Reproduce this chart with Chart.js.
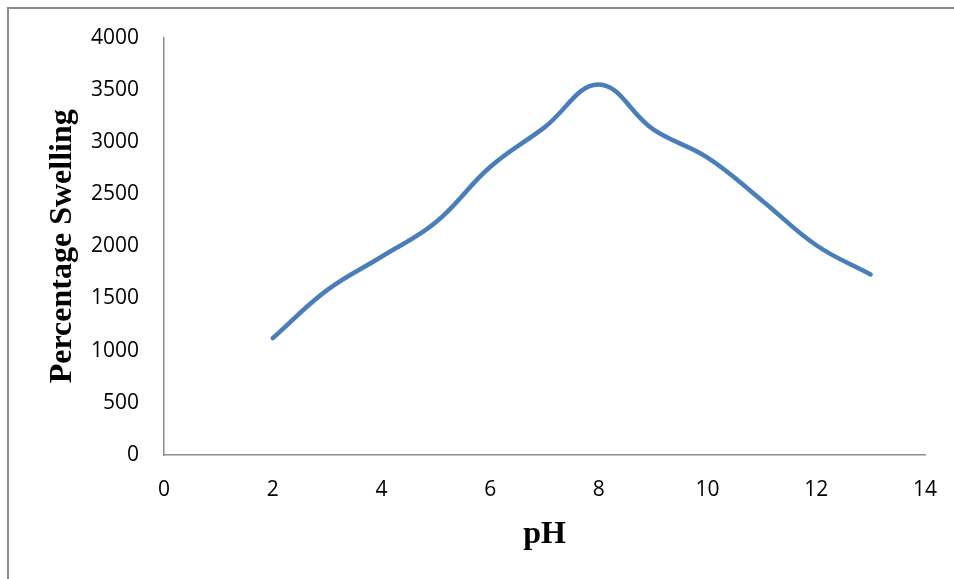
<!DOCTYPE html>
<html>
<head>
<meta charset="utf-8">
<script src="https://cdn.jsdelivr.net/npm/chart.js@4/dist/chart.umd.min.js"></script>
<style>
    html, body { margin: 0; padding: 0; background: #fff; }
    #wrap { position: relative; width: 954px; height: 579px; overflow: hidden; }
    #frame {
        position: absolute; left: 7px; top: 7px; width: 960px; height: 600px;
        border-left: 2px solid #8c8c8c; border-top: 2px solid #8c8c8c; box-sizing: border-box;
    }
    #chart { position: absolute; left: 0; top: 0; }
</style>
</head>
<body>
<div id="wrap">
    <div id="frame"></div>
    <canvas id="chart" width="954" height="579"></canvas>
</div>
<script>
// === DỮ LIỆU ===
const phValues = [2, 3, 4, 5, 6, 7, 8, 9, 10, 11, 12, 13];
const swellingValues = [1120, 1580, 1900, 2230, 2760, 3140, 3550, 3120, 2850, 2440, 2010, 1730];
const xTicks = [0, 2, 4, 6, 8, 10, 12, 14];
const yTicks = [0, 500, 1000, 1500, 2000, 2500, 3000, 3500, 4000];

const points = phValues.map((x, i) => ({ x: x, y: swellingValues[i] }));

const tickFont = { family: '"Open Sans", sans-serif', size: 21 };
const titleFont = { family: '"Liberation Serif", "Times New Roman", serif', size: 32, weight: 'bold' };

new Chart(document.getElementById('chart').getContext('2d'), {
    type: 'line',
    data: {
        datasets: [{
            label: 'Percentage Swelling',
            data: points,
            borderColor: 'rgb(74, 126, 187)',
            borderWidth: 4.5,
            pointRadius: 0,
            tension: 0.4,
            fill: false,
            borderCapStyle: 'round'
        }]
    },
    options: {
        responsive: false,
        animation: false,
        layout: { padding: { left: 0, right: 29, top: 37, bottom: 0 } },
        plugins: { legend: { display: false }, tooltip: { enabled: false } },
        scales: {
            x: {
                type: 'linear',
                min: 0,
                max: 14,
                afterBuildTicks: (axis) => { axis.ticks = xTicks.map(v => ({ value: v })); },
                afterFit: (axis) => {
                    axis.height = 124;
                    // bỏ phần đệm tự động cho nhãn cuối để trục kết thúc đúng vị trí
                    axis.paddingRight = 0;
                    axis.paddingLeft = 0;
                },
                grid: { display: false, drawTicks: false },
                border: { display: true, color: '#8c8c8c', width: 1.5 },
                ticks: { color: '#000', font: tickFont, padding: 22, maxRotation: 0, callback: (v) => String(v) },
                title: { display: true, text: 'pH', color: '#000', font: titleFont, padding: { bottom: 25 } }
            },
            y: {
                min: 0,
                max: 4000,
                afterBuildTicks: (axis) => { axis.ticks = yTicks.map(v => ({ value: v })); },
                afterFit: (axis) => { axis.width = 164; },
                grid: { display: false, drawTicks: false },
                border: { display: true, color: '#8c8c8c', width: 1.5 },
                ticks: { color: '#000', font: tickFont, padding: 25, callback: (v) => String(v) },
                title: { display: true, text: 'Percentage Swelling', color: '#000', font: titleFont, padding: { top: 44 } }
            }
        }
    }
});
</script>
</body>
</html>
